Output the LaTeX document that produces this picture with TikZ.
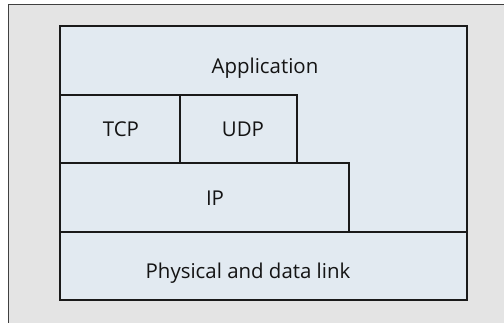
\documentclass[tikz,border=0pt]{standalone}
\usepackage{fontspec}
\setmainfont{Open Sans}
\definecolor{framegray}{HTML}{E4E4E4}
\definecolor{layerblue}{HTML}{E2EAF1}
\definecolor{edgedark}{HTML}{1A1A1A}
\begin{document}
\begin{tikzpicture}[x=1bp,y=-1bp,
  layer/.style={draw=edgedark,fill=layerblue,line width=1.2bp},
  lbl/.style={anchor=base,inner sep=0pt,font=\fontsize{20.5}{24}\selectfont,text=black!92}]
\useasboundingbox (0,0) rectangle (504,322);
\clip (0,0) rectangle (504,322);
\fill[white] (0,0) rectangle (504,322);
\draw[fill=framegray,draw=black!75,line width=1bp] (8,4) rectangle (520,340);
% layers
\draw[layer] (60,26) rectangle (467,300);
\draw[layer] (60,95) rectangle (180,163);
\draw[layer] (180,95) rectangle (297,163);
\draw[layer] (60,163) rectangle (349,232);
\draw[layer] (60,232) rectangle (467,300);
\draw[draw=edgedark,line width=1.4bp] (60,26) rectangle (467,300);
% labels
\node[lbl] (tApp) at (265,73) {Application};
\node[lbl] (tTCP) at (121,136) {TCP};
\node[lbl] (tUDP) at (243,136) {UDP};
\node[lbl] (tIP) at (215,205) {IP};
\node[lbl] (tPhy) at (248,278) {Physical and data link};
\end{tikzpicture}
\end{document}
